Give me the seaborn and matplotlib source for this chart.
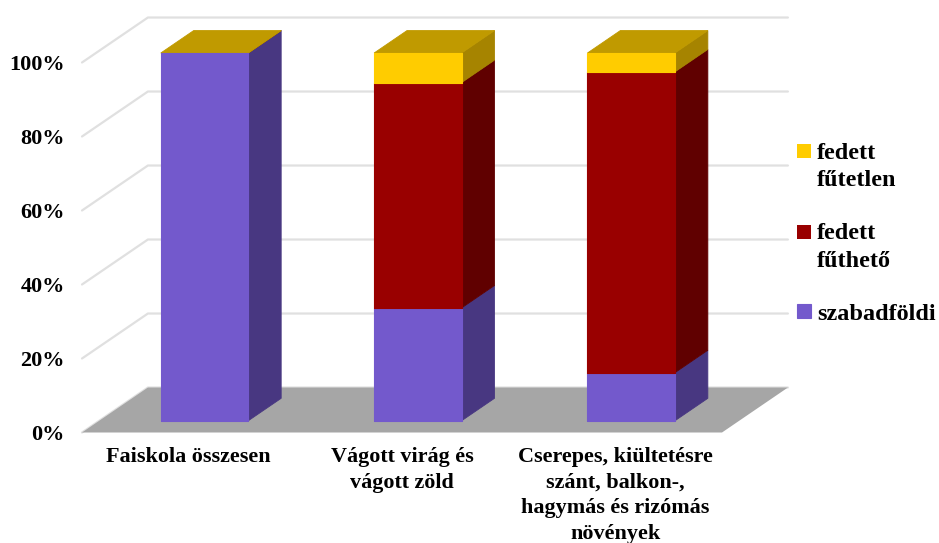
import numpy as np
import pandas as pd
import matplotlib
matplotlib.use("Agg")
import matplotlib.pyplot as plt
from matplotlib.patches import Polygon
import seaborn as sns

# Values (percent of each category)
categories = ["Faiskola összesen", "Vágott virág és\nvágott zöld",
              "Cserepes, kiültetésre\nszánt, balkon-,\nhagymás és rizómás\nnövények"]
szabadfoldi = [99.4, 30.5, 13.0]
futheto = [0.0, 60.9, 81.3]
futetlen = [0.0, 8.0, 5.1]
series_names = ["szabadföldi", "fedett\nfűthető", "fedett\nfűtetlen"]
y_ticks = [0, 20, 40, 60, 80, 100]
y_labels = ["0%", "20%", "40%", "60%", "80%", "100%"]

# front, side colours
colors = ["#7359CC", "#990000", "#FFCC00"]
side_colors = ["#483781", "#600000", "#A68400"]
top_color = "#C09A00"
floor_color = "#A6A6A6"
grid_color = "#E0E0E0"

# fake 3d: depth of the chart box in data units
depth_x = 0.309
depth_y = 12.16
bar_front_x = 0.24  # where the bars start inside the box
bar_front_y = 0.26
bar_depth = 0.50
bar_width = 0.41

sns.set_theme(style="white")
plt.rcParams["font.family"] = ["Liberation Serif", "DejaVu Serif"]
plt.rcParams["font.weight"] = "bold"

fig = plt.figure(figsize=(9.39, 5.43), dpi=100, facecolor="white")
ax = fig.add_axes([82 / 939, (543 - 432.5) / 543, 640 / 939, 370 / 543])
ax.patch.set_visible(False)

# walls and floor
x0, x1 = -0.5, 2.5
for t in y_ticks:
    ax.plot([x0, x0 + depth_x, x1 + depth_x], [t, t + depth_y, t + depth_y],
            color=grid_color, lw=1.6, clip_on=False, zorder=0.5)
ax.add_patch(Polygon([(x0, 0), (x0 + depth_x, depth_y), (x1 + depth_x, depth_y), (x1, 0)],
                     closed=True, fc=floor_color, ec="none", clip_on=False, zorder=1))

# stacked bars
values = [szabadfoldi, futheto, futetlen]
bottom = np.zeros(3)
for name, vals, col in zip(series_names, values, colors):
    df = pd.DataFrame({"cat": categories, "val": vals})
    sns.barplot(data=df, x="cat", y="val", color=col, saturation=1, width=bar_width,
                bottom=bottom, label=name, errorbar=None, ax=ax, zorder=4, linewidth=0)
    bottom = bottom + np.array(vals)

handles, labels = ax.get_legend_handles_labels()

# shift bars into the box and add sides and tops
ddx, ddy = bar_depth * depth_x, bar_depth * depth_y
for cont, side in zip(ax.containers, side_colors):
    for rect in cont.patches:
        rect.set_x(rect.get_x() + bar_front_x * depth_x)
        rect.set_y(rect.get_y() + bar_front_y * depth_y)
        rect.set_clip_on(False)
        xr = rect.get_x() + rect.get_width()
        yb, yt = rect.get_y(), rect.get_y() + rect.get_height()
        if rect.get_height() > 0:
            rect.set_edgecolor(rect.get_facecolor())
            rect.set_linewidth(0.8)
            rect.set_joinstyle("round")
        ax.add_patch(Polygon([(xr, yb), (xr + ddx, yb + ddy), (xr + ddx, yt + ddy), (xr, yt)],
                             closed=True, fc=side, ec=side, lw=0.6, clip_on=False, zorder=3))
for rect in ax.containers[-1].patches:
    xl = rect.get_x()
    xr = xl + rect.get_width()
    yt = rect.get_y() + rect.get_height()
    ax.add_patch(Polygon([(xl, yt), (xl + ddx, yt + ddy), (xr + ddx, yt + ddy), (xr, yt)],
                         closed=True, fc=top_color, ec=top_color, lw=0.6, clip_on=False, zorder=3.5))

ax.set_xlim(x0, x1)
ax.set_ylim(0, 100)
ax.set_yticks(y_ticks)
ax.set_yticklabels(y_labels, fontsize=16, fontweight="bold", color="black")
ax.set_xlabel("")
ax.set_ylabel("")
ax.tick_params(axis="y", length=0, pad=12.5)
ax.tick_params(axis="x", length=0, pad=10.5)
for lab in ax.get_xticklabels():
    lab.set_fontsize(15.9)
    lab.set_fontweight("bold")
    lab.set_color("black")
    lab.set_linespacing(1.37)
sns.despine(ax=ax, left=True, bottom=True)

leg = ax.legend(handles[::-1], labels[::-1], loc="upper left",
                bbox_to_anchor=(797 / 939, (543 - 143) / 543), bbox_transform=fig.transFigure,
                frameon=False, fontsize=17.5, labelspacing=1.32, handlelength=0.58, handleheight=0.5,
                handletextpad=0.25, borderpad=0, borderaxespad=0)
for txt in leg.get_texts():
    txt.set_linespacing(1.4)
    txt.set_color("black")
# swatches sit on the first line of the two line labels
for hd, lab in zip(leg.legend_handles, labels[::-1]):
    if "\n" in lab:
        hd.set_y(hd.get_y() + 11)

fig.savefig("out.png", dpi=100, facecolor="white")
